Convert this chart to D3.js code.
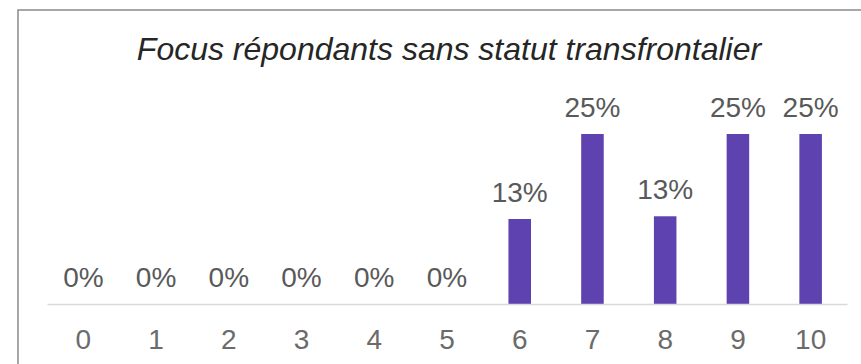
<!DOCTYPE html>
<html>
<head>
<meta charset="utf-8">
<script src="https://cdn.jsdelivr.net/npm/d3@7/dist/d3.min.js"></script>
<style>
  html, body { margin: 0; padding: 0; background: #fff; }
  svg { display: block; }
</style>
</head>
<body>
<svg id="chart" width="861" height="364"></svg>
<script>
// Score distribution (0–10) for respondents without cross-border status
const categories = ["0", "1", "2", "3", "4", "5", "6", "7", "8", "9", "10"];
const shares = [0, 0, 0, 0, 0, 0, 0.125, 0.25, 0.129, 0.25, 0.25];
const title = "Focus répondants sans statut transfrontalier";

const W = 861, H = 364;
const font = "'Liberation Sans', Arial, sans-serif";
const svg = d3.select("#chart");

// Chart frame
svg.append("rect")
  .attr("x", 18).attr("y", 10)
  .attr("width", 860).attr("height", 380)
  .attr("fill", "#fff")
  .attr("stroke", "#8a8a8a")
  .attr("stroke-width", 1.5);

const x = d3.scaleBand()
  .domain(categories)
  .range([47, 847])
  .paddingInner(0.69)
  .paddingOuter(0.345);

const y = d3.scaleLinear().domain([0, 0.3]).range([304, 100]);
const pct = d3.format(".0%");

// Title
svg.append("text")
  .attr("x", 449).attr("y", 60)
  .attr("text-anchor", "middle")
  .attr("font-family", font)
  .attr("font-style", "italic")
  .attr("font-size", 32)
  .attr("fill", "#262626")
  .text(title);

// Bars
svg.append("g").selectAll("rect")
  .data(shares)
  .join("rect")
  .attr("x", (d, i) => x(categories[i]))
  .attr("width", x.bandwidth())
  .attr("y", d => y(d))
  .attr("height", d => y(0) - y(d))
  .attr("fill", "#5d42b0");

// Category axis
const axis = svg.append("g")
  .attr("transform", `translate(0,${y(0)})`)
  .call(d3.axisBottom(x).tickSize(0).tickPadding(0));
axis.select(".domain")
  .attr("stroke", "#d9d9d9")
  .attr("stroke-width", 1.5);
axis.selectAll(".tick text")
  .attr("font-family", font)
  .attr("font-size", 28)
  .attr("fill", "#6b6b6b")
  .attr("dy", null)
  .attr("y", 45);

// Value labels
svg.append("g").selectAll("text")
  .data(shares)
  .join("text")
  .attr("x", (d, i) => x(categories[i]) + x.bandwidth() / 2)
  .attr("y", d => y(d) - 17)
  .attr("text-anchor", "middle")
  .attr("font-family", font)
  .attr("font-size", 28)
  .attr("fill", "#595959")
  .text(d => pct(d));
</script>
</body>
</html>
